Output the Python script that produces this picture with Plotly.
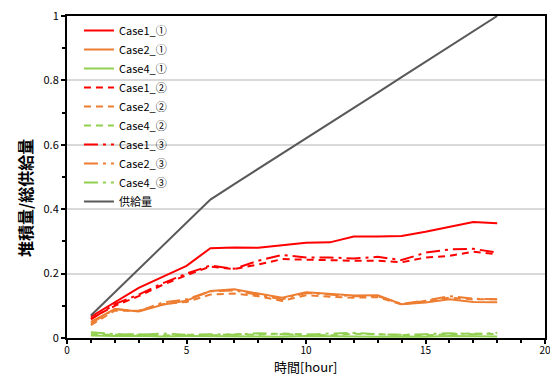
import plotly.graph_objects as go

hours = list(range(1, 19))

case1_1 = [0.066, 0.112, 0.156, 0.19, 0.224, 0.279, 0.281, 0.28, 0.289, 0.296, 0.297, 0.315, 0.315, 0.317, 0.33, 0.345, 0.36, 0.356]
case2_1 = [0.05, 0.09, 0.082, 0.103, 0.116, 0.146, 0.151, 0.138, 0.125, 0.142, 0.137, 0.132, 0.133, 0.105, 0.11, 0.12, 0.112, 0.111]
case4_1 = [0.008, 0.006, 0.007, 0.005, 0.006, 0.005, 0.006, 0.005, 0.004, 0.006, 0.005, 0.006, 0.004, 0.005, 0.004, 0.006, 0.005, 0.005]
case1_2 = [0.06, 0.1, 0.13, 0.165, 0.195, 0.222, 0.214, 0.228, 0.245, 0.243, 0.24, 0.24, 0.24, 0.235, 0.25, 0.255, 0.268, 0.26]
case2_2 = [0.04, 0.085, 0.085, 0.105, 0.112, 0.135, 0.138, 0.13, 0.115, 0.133, 0.128, 0.125, 0.127, 0.104, 0.115, 0.125, 0.12, 0.12]
case4_2 = [0.012, 0.01, 0.012, 0.008, 0.01, 0.008, 0.012, 0.01, 0.014, 0.01, 0.008, 0.013, 0.012, 0.009, 0.008, 0.012, 0.014, 0.012]
case1_3 = [0.058, 0.105, 0.135, 0.17, 0.2, 0.225, 0.215, 0.24, 0.258, 0.25, 0.25, 0.247, 0.252, 0.242, 0.265, 0.275, 0.277, 0.265]
case2_3 = [0.045, 0.09, 0.083, 0.11, 0.12, 0.145, 0.148, 0.135, 0.12, 0.14, 0.135, 0.13, 0.13, 0.106, 0.116, 0.13, 0.122, 0.12]
case4_3 = [0.018, 0.012, 0.01, 0.014, 0.01, 0.012, 0.01, 0.015, 0.012, 0.01, 0.014, 0.016, 0.012, 0.01, 0.012, 0.015, 0.012, 0.016]
supply = [0.07, 0.142, 0.214, 0.286, 0.358, 0.43, 0.478, 0.525, 0.572, 0.62, 0.668, 0.715, 0.762, 0.81, 0.858, 0.905, 0.952, 1.0]

x_title = "時間[hour]"
y_title = "堆積量/総供給量"

RED = "#FF0000"
ORANGE = "#ED7D31"
GREEN = "#92D050"
GRAY = "#595959"
DASH = "7px,5px"
DASHDOT = "14px,5px,3px,5px"

series = [
    ("Case1_①", case1_1, RED, "solid"),
    ("Case2_①", case2_1, ORANGE, "solid"),
    ("Case4_①", case4_1, GREEN, "solid"),
    ("Case1_②", case1_2, RED, DASH),
    ("Case2_②", case2_2, ORANGE, DASH),
    ("Case4_②", case4_2, GREEN, DASH),
    ("Case1_③", case1_3, RED, DASHDOT),
    ("Case2_③", case2_3, ORANGE, DASHDOT),
    ("Case4_③", case4_3, GREEN, DASHDOT),
    ("供給量", supply, GRAY, "solid"),
]

fig = go.Figure()
for name, vals, color, dash in series:
    fig.add_trace(go.Scatter(x=hours, y=vals, name=name, mode="lines",
                             line=dict(color=color, width=2, dash=dash)))

FONT = "Noto Sans CJK JP"
fig.update_layout(
    width=550, height=368,
    margin=dict(l=59, r=13, t=8, b=38),
    plot_bgcolor="white", paper_bgcolor="white",
    font=dict(family=FONT, size=11, color="black"),
    showlegend=True,
    legend=dict(x=0.025, y=1.0, xanchor="left", yanchor="top",
                bgcolor="rgba(255,255,255,0)", font=dict(size=11, family=FONT),
                tracegroupgap=0),
    xaxis=dict(range=[0, 20], dtick=5, tick0=0, showgrid=False, automargin=False,
               showline=True, linecolor="black", linewidth=2, mirror=True,
               ticks="outside", ticklen=4, tickwidth=2, tickcolor="black",
               minor=dict(dtick=1, ticks="outside", ticklen=3, tickwidth=2, tickcolor="black"),
               zeroline=False, tickfont=dict(size=10), ticklabeloverflow="allow",
               ticklabelstandoff=-2),
    yaxis=dict(range=[0, 1], dtick=0.2, tick0=0, showgrid=True, automargin=False,
               gridcolor="#D9D9D9", gridwidth=2,
               showline=True, linecolor="black", linewidth=2, mirror=True,
               ticks="outside", ticklen=4, tickwidth=2, tickcolor="black",
               minor=dict(dtick=0.1, ticks="outside", ticklen=3, tickwidth=2, tickcolor="black", showgrid=False),
               zeroline=False, tickfont=dict(size=11), ticklabeloverflow="allow"),
    annotations=[
        dict(text=x_title, xref="paper", yref="paper", x=0.5, y=0, xanchor="center", yanchor="top",
             yshift=-18, borderpad=0, showarrow=False, font=dict(size=13, family=FONT)),
        dict(text="<b>" + y_title + "</b>", xref="paper", yref="paper", x=0, y=0.435,
             xanchor="center", yanchor="middle", xshift=-42, textangle=-90,
             showarrow=False, font=dict(size=16, family=FONT)),
    ],
)

fig.write_html("out.html")
